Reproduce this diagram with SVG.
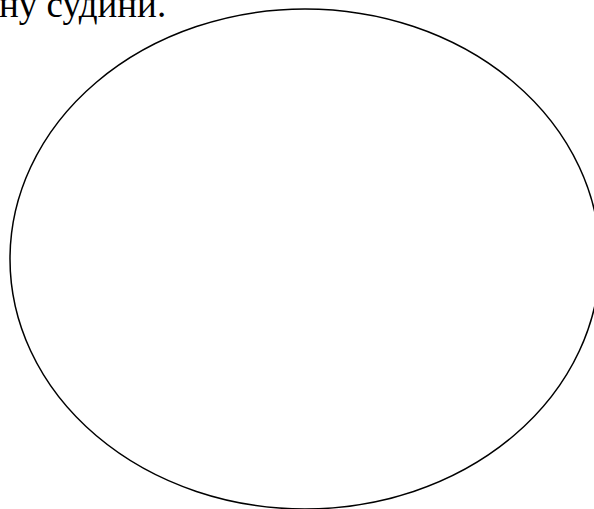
<svg xmlns="http://www.w3.org/2000/svg" width="594" height="509" viewBox="0 0 594 509">
<style>
.t{font-family:"Liberation Serif","Times New Roman",serif;font-size:37px;fill:#000}
.e{fill:none;stroke:#000;stroke-width:1.5}
</style>
<rect width="594" height="509" fill="#fff"/>
<text class="t" x="-1" y="17">ну судини.</text>
<g id="vessel">
<ellipse class="e" cx="305" cy="259" rx="295" ry="250"/>
</g>
</svg>
